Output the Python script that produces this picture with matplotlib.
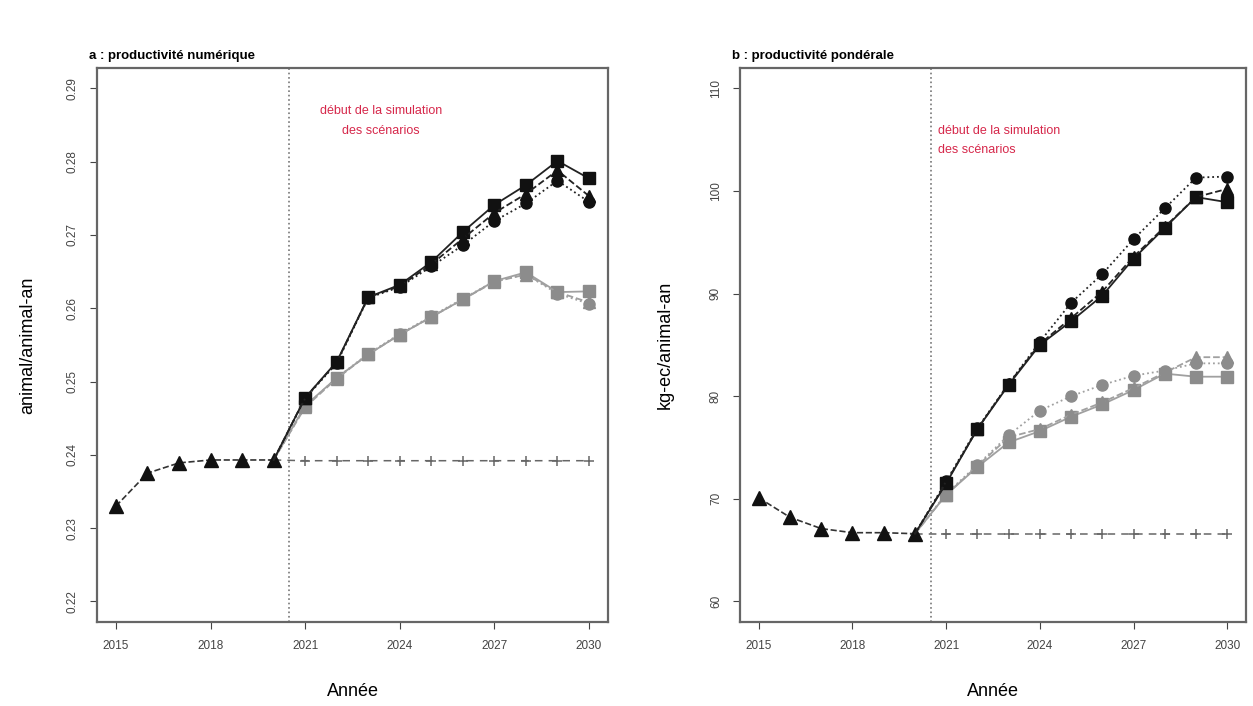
import matplotlib.pyplot as plt
import numpy as np

plt.rcParams['font.family'] = ['Liberation Sans', 'DejaVu Sans']

# Data
hist_years = [2015, 2016, 2017, 2018, 2019, 2020]
scen_years = [2020, 2021, 2022, 2023, 2024, 2025, 2026, 2027, 2028, 2029, 2030]

# a : productivité numérique (animal/animal-an)
hist_num = [0.2330, 0.2375, 0.2389, 0.2393, 0.2393, 0.2393]
base_num = [0.2393, 0.2392, 0.2392, 0.2392, 0.2392, 0.2392, 0.2392, 0.2392, 0.2392, 0.2392, 0.2392]
num_black_sq = [0.2393, 0.2478, 0.2527, 0.2615, 0.2632, 0.2663, 0.2704, 0.2741, 0.2768, 0.2801, 0.2777]
num_black_tr = [0.2393, 0.2478, 0.2526, 0.2615, 0.2630, 0.2660, 0.2695, 0.2730, 0.2756, 0.2788, 0.2753]
num_black_ci = [0.2393, 0.2477, 0.2525, 0.2614, 0.2629, 0.2657, 0.2686, 0.2719, 0.2743, 0.2774, 0.2745]
num_gray_sq = [0.2393, 0.2467, 0.2505, 0.2537, 0.2564, 0.2588, 0.2612, 0.2637, 0.2649, 0.2622, 0.2623]
num_gray_tr = [0.2393, 0.2465, 0.2504, 0.2537, 0.2564, 0.2588, 0.2612, 0.2636, 0.2646, 0.2622, 0.2608]
num_gray_ci = [0.2393, 0.2466, 0.2505, 0.2538, 0.2565, 0.2589, 0.2613, 0.2637, 0.2646, 0.2620, 0.2606]

# b : productivité pondérale (kg-ec/animal-an)
hist_pond = [70.1, 68.2, 67.1, 66.7, 66.7, 66.6]
base_pond = [66.6, 66.6, 66.6, 66.6, 66.6, 66.6, 66.6, 66.6, 66.6, 66.6, 66.6]
pond_black_ci = [66.6, 71.7, 76.9, 81.2, 85.3, 89.1, 91.9, 95.3, 98.3, 101.3, 101.4]
pond_black_tr = [66.6, 71.6, 76.8, 81.2, 85.1, 87.6, 90.2, 93.6, 96.5, 99.4, 100.2]
pond_black_sq = [66.6, 71.5, 76.8, 81.1, 85.0, 87.3, 89.8, 93.4, 96.4, 99.4, 98.9]
pond_gray_ci = [66.6, 70.5, 73.3, 76.2, 78.6, 80.0, 81.1, 82.0, 82.5, 83.2, 83.2]
pond_gray_tr = [66.6, 70.4, 73.2, 76.0, 76.8, 78.2, 79.4, 80.8, 82.3, 83.8, 83.8]
pond_gray_sq = [66.6, 70.4, 73.1, 75.5, 76.6, 78.0, 79.2, 80.6, 82.2, 81.9, 81.9]

panels = [
    dict(title='a : productivité numérique', ylabel='animal/animal-an', hist=hist_num, base=base_num,
         black=[num_black_sq, num_black_tr, num_black_ci], gray=[num_gray_sq, num_gray_tr, num_gray_ci],
         ylim=(0.22, 0.29), yticks=[0.22, 0.23, 0.24, 0.25, 0.26, 0.27, 0.28, 0.29], fmt='{:.2f}',
         pos=[0.0774, 0.119, 0.4078, 0.785], note_x=2023.4, note_y=0.2855, note_ha='center', ylpad=22),
    dict(title='b : productivité pondérale', ylabel='kg-ec/animal-an', hist=hist_pond, base=base_pond,
         black=[pond_black_sq, pond_black_tr, pond_black_ci], gray=[pond_gray_sq, pond_gray_tr, pond_gray_ci],
         ylim=(60, 110), yticks=[60, 70, 80, 90, 100, 110], fmt='{:.0f}',
         pos=[0.5906, 0.119, 0.4038, 0.785], note_x=2020.75, note_y=104.9, note_ha='left', ylpad=26),
]

markers = ['s', '^', 'o']
styles = ['-', '--', ':']
black = '#111111'
gray = '#8c8c8c'
red = '#d6284b'

fig = plt.figure(figsize=(12.53, 7.06), dpi=100)

for i, p in enumerate(panels):
    ax = fig.add_axes(p['pos'])
    # historical part
    ax.plot(hist_years, p['hist'], color='#333333', linestyle='--', lw=1.2,
            marker='^', markersize=10, markerfacecolor=black, markeredgecolor=black, zorder=4)
    # baseline
    ax.plot(scen_years, p['base'], color='#666666', linestyle=(0, (5, 4)), lw=1.1,
            marker='+', markersize=7, markeredgewidth=1.1, zorder=3)
    # gray scenarios
    for vals, m, ls in zip(p['gray'], markers, styles):
        ax.plot(scen_years[1:], vals[1:], color='#a0a0a0', linestyle=ls, lw=1.3,
                marker=m, markersize=8, markerfacecolor=gray, markeredgecolor=gray, zorder=4)
        ax.plot(scen_years[:2], vals[:2], color='#a0a0a0', linestyle=ls, lw=1.3, zorder=3)
    # black scenarios
    for vals, m, ls in zip(p['black'], markers, styles):
        ax.plot(scen_years[1:], vals[1:], color='#222222', linestyle=ls, lw=1.3,
                marker=m, markersize=8, markerfacecolor=black, markeredgecolor=black, zorder=5)
        ax.plot(scen_years[:2], vals[:2], color='#222222', linestyle=ls, lw=1.3, zorder=5)

    # start of the scenario simulation
    ax.axvline(2020.5, color='#777777', linestyle=':', lw=1.2)
    ax.text(p['note_x'], p['note_y'], 'début de la simulation\ndes scénarios', color=red,
            fontsize=9, ha=p['note_ha'], va='center', linespacing=1.85, multialignment=p['note_ha'])

    y0, y1 = p['ylim']
    pad = (y1 - y0) * 0.04
    ax.set_ylim(y0 - pad, y1 + pad)
    ax.set_xlim(2015 - 0.6, 2030 + 0.6)
    ax.set_xticks([2015, 2018, 2021, 2024, 2027, 2030])
    ax.set_yticks(p['yticks'])
    ax.set_yticklabels([p['fmt'].format(v) for v in p['yticks']], rotation=90, va='center')
    ax.tick_params(axis='both', labelsize=8.5, colors='#444444', direction='out', length=5)
    ax.tick_params(axis='x', pad=8)
    ax.tick_params(axis='y', pad=8)
    for s in ax.spines.values():
        s.set_color('#666666')
        s.set_linewidth(1.6)

    ax.set_xlabel('Année', fontsize=13, labelpad=22)
    ax.set_ylabel(p['ylabel'], fontsize=13, labelpad=p['ylpad'])
    ax.text(-0.015, 1.01, p['title'], transform=ax.transAxes, fontsize=9.5, fontweight='bold',
            ha='left', va='bottom')

plt.savefig('out.png', dpi=100)
